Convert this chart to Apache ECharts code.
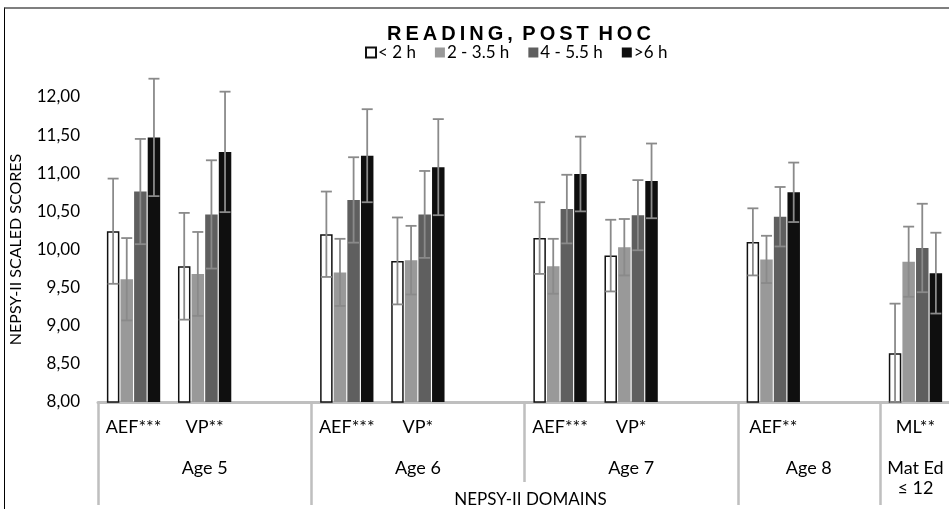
<!DOCTYPE html>
<html>
<head>
<meta charset="utf-8">
<script src="https://cdn.jsdelivr.net/npm/echarts@6/dist/echarts.min.js"></script>
<style>
html,body{margin:0;padding:0;background:#fff;overflow:hidden;}
#chart{position:absolute;left:0;top:0;width:949px;height:509px;}
#frame{position:absolute;left:4px;top:7px;width:960px;height:520px;border-top:2px solid #7f7f7f;border-left:1.5px solid #000;pointer-events:none;box-sizing:border-box;}
</style>
</head>
<body>
<div id="chart"></div>
<div id="frame"></div>
<script>
// ---- data ----
const slotLabels = ['AEF***','VP**','','AEF***','VP*','','AEF***','VP*','','AEF**','','ML**'];
const groupNames = ['Age 5','Age 6','Age 7','Age 8','Mat Ed\n\u2264 12'];
const groupSlots = [3,3,3,2,1];
const seriesNames = ['< 2 h','2 - 3.5 h','4 - 5.5 h','>6 h'];
const yTicks = [8,8.5,9,9.5,10,10.5,11,11.5,12];

const valLt2  = [10.24, 9.78, null, 10.20, 9.85, null, 10.15, 9.92, null, 10.10, null, 8.64];
const val2to35 = [9.61, 9.68, null, 9.70, 9.86, null, 9.78, 10.03, null, 9.87, null, 9.84];
const val4to55 = [10.76, 10.46, null, 10.65, 10.46, null, 10.53, 10.45, null, 10.43, null, 10.02];
const valGt6  = [11.47, 11.28, null, 11.23, 11.08, null, 10.99, 10.90, null, 10.75, null, 9.69];

const errLt2  = [0.69, 0.70, null, 0.56, 0.57, null, 0.47, 0.47, null, 0.44, null, 0.65];
const err2to35 = [0.54, 0.55, null, 0.44, 0.45, null, 0.36, 0.37, null, 0.31, null, 0.46];
const err4to55 = [0.69, 0.71, null, 0.56, 0.57, null, 0.45, 0.46, null, 0.39, null, 0.58];
const errGt6  = [0.77, 0.79, null, 0.61, 0.63, null, 0.49, 0.49, null, 0.39, null, 0.53];

// ---- styling / build ----
const values = [valLt2, val2to35, val4to55, valGt6];
const errors = [errLt2, err2to35, err4to55, errGt6];
const colors = ['#ffffff','#999999','#5f5f5f','#0f0f0f'];
const CAT_GAP = 0.25, BAR_GAP = 0.09;
const FONT = 'Lato, "Liberation Sans", sans-serif';

// half-slot category axis for group labels and separators
const halfCount = slotLabels.length * 2 + 1;
const halfCats = [];
for (let i = 0; i < halfCount; i++) halfCats.push(String(i));
const labelAt = {};
const fullTicks = new Set([0]);
let acc = 0;
groupSlots.forEach((n, gi) => {
  labelAt[acc * 2 + n] = groupNames[gi];
  acc += n;
  fullTicks.add(acc * 2);
});
const shortTickIdx = 12; // boundary between Age 6 and Age 7 (half-slot index)
fullTicks.delete(shortTickIdx);

function errRender(i) {
  return function (params, api) {
    const slot = api.value(0), v = api.value(1), e = api.value(2);
    const band = api.size([1, 0])[0];
    const groupW = band * (1 - CAT_GAP);
    const bw = groupW / (4 + 3 * BAR_GAP);
    const cx = api.coord([slot, v])[0] - groupW / 2 + bw / 2 + i * bw * (1 + BAR_GAP);
    const yt = api.coord([slot, v + e])[1];
    const yb = api.coord([slot, Math.max(v - e, 8)])[1];
    const cap = 5.5;
    const st = { stroke: '#8a8a8a', lineWidth: 1.8 };
    return {
      type: 'group',
      children: [
        { type: 'line', shape: { x1: cx, y1: yt, x2: cx, y2: yb }, style: st },
        { type: 'line', shape: { x1: cx - cap, y1: yt, x2: cx + cap, y2: yt }, style: st },
        { type: 'line', shape: { x1: cx - cap, y1: yb, x2: cx + cap, y2: yb }, style: st }
      ]
    };
  };
}

const series = [];
values.forEach((arr, i) => {
  series.push({
    name: seriesNames[i],
    type: 'bar',
    xAxisIndex: 0,
    data: arr.map(v => v == null ? '-' : v),
    barCategoryGap: (CAT_GAP * 100) + '%',
    barGap: (BAR_GAP * 100) + '%',
    itemStyle: i === 0 ? { color: colors[i], borderColor: '#111', borderWidth: 1.5 } : { color: colors[i] },
    emphasis: { disabled: true },
    z: 2
  });
});
values.forEach((arr, i) => {
  const d = [];
  arr.forEach((v, k) => { if (v != null) d.push([k, v, errors[i][k]]); });
  series.push({
    name: 'err' + i,
    type: 'custom',
    xAxisIndex: 0,
    renderItem: errRender(i),
    data: d,
    z: 5,
    silent: true
  });
});

const T = '\u2009';
const titleText = ['READING,', 'POST', 'HOC'].map(w => w.split('').join(T)).join(T + ' ');

const chart = echarts.init(document.getElementById('chart'), null, { renderer: 'canvas' });
chart.setOption({
  animation: false,
  backgroundColor: '#fff',
  textStyle: { fontFamily: FONT },
  title: {
    text: titleText,
    left: 382,
    top: 19,
    textStyle: { fontFamily: '"Liberation Sans", Arial, sans-serif', fontWeight: 'bold', fontSize: 20, color: '#000' }
  },
  legend: {
    data: seriesNames,
    left: 360,
    top: 39,
    itemWidth: 10,
    itemHeight: 10,
    itemGap: 19,
    icon: 'rect',
    textStyle: { fontFamily: FONT, fontSize: 17, color: '#000', padding: [0, 0, 0, -3] }
  },
  grid: { left: 98, top: 97, width: 853, bottom: 107, outerBoundsMode: 'none' },
  yAxis: {
    type: 'value',
    min: 8,
    max: 12,
    interval: 0.5,
    name: 'NEPSY-II SCALED SCORES',
    nameLocation: 'middle',
    nameGap: 74,
    nameTextStyle: { fontFamily: FONT, fontSize: 16, color: '#000' },
    axisLine: { show: false },
    axisTick: { show: false },
    splitLine: { show: false },
    axisLabel: {
      margin: 18,
      fontFamily: FONT,
      fontSize: 17,
      color: '#000',
      formatter: v => v.toFixed(2).replace('.', ',')
    }
  },
  xAxis: [
    {
      type: 'category',
      position: 'bottom',
      data: slotLabels,
      axisLine: { show: true, lineStyle: { color: '#bfbfbf', width: 3 } },
      axisTick: { show: false },
      axisLabel: { interval: 0, margin: 16, fontFamily: FONT, fontSize: 18, color: '#000' },
      name: 'NEPSY-II DOMAINS',
      nameLocation: 'middle',
      nameGap: 89,
      nameTextStyle: { fontFamily: FONT, fontSize: 17, color: '#000', padding: [0, 0, 0, 12] }
    },
    {
      type: 'category',
      position: 'bottom',
      boundaryGap: false,
      data: halfCats,
      axisLine: { show: false },
      axisTick: {
        show: true,
        interval: (idx) => fullTicks.has(idx),
        length: 103,
        lineStyle: { color: '#bfbfbf', width: 2.5 }
      },
      axisLabel: {
        interval: (idx) => labelAt[idx] !== undefined,
        formatter: (v, idx) => labelAt[idx] || '',
        margin: 56,
        lineHeight: 20,
        fontFamily: FONT,
        fontSize: 18,
        color: '#000'
      },
      splitLine: { show: false }
    },
    {
      type: 'category',
      position: 'bottom',
      boundaryGap: false,
      data: halfCats,
      axisLine: { show: false },
      axisTick: {
        show: true,
        interval: (idx) => idx === shortTickIdx,
        length: 80,
        lineStyle: { color: '#bfbfbf', width: 2.5 }
      },
      axisLabel: { show: false },
      splitLine: { show: false }
    }
  ],
  series: series
});
</script>
</body>
</html>
